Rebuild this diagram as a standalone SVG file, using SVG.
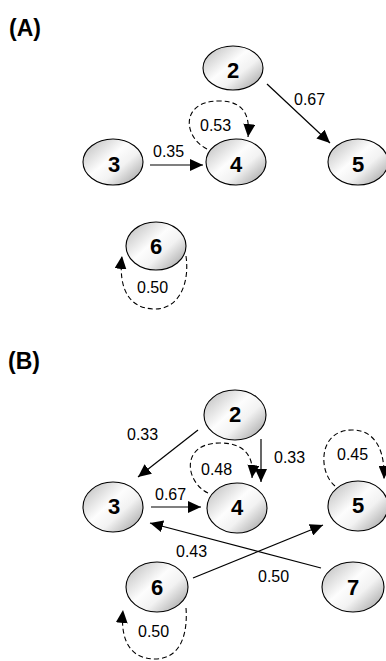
<svg xmlns="http://www.w3.org/2000/svg" width="386" height="661" viewBox="0 0 386 661">
<defs>
<linearGradient id="shade" x1="0" y1="0.2" x2="0.9" y2="1">
<stop offset="0" stop-color="#c6c6c6"/>
<stop offset="0.4" stop-color="#fdfdfd"/>
<stop offset="0.62" stop-color="#f2f2f2"/>
<stop offset="1" stop-color="#a4a4a4"/>
</linearGradient>
<marker id="arr" markerUnits="userSpaceOnUse" markerWidth="14" markerHeight="12" viewBox="0 0 14 12" refX="13" refY="6" orient="auto">
<path d="M0,0 L13,6 L0,12 z" fill="#000"/>
</marker>
<style>
.node ellipse{fill:url(#shade);stroke:#000;stroke-width:1.1}
.node text{font-family:"Liberation Sans",Arial,sans-serif;font-weight:bold;font-size:22px;text-anchor:middle;fill:#000}
.e{fill:none;stroke:#000;stroke-width:1.2;marker-end:url(#arr)}
.d{fill:none;stroke:#000;stroke-width:1.1;stroke-dasharray:5,3;marker-end:url(#arr)}
.lbl{font-family:"Liberation Sans",Arial,sans-serif;font-size:16px;fill:#000}
.pan{font-family:"Liberation Sans",Arial,sans-serif;font-weight:bold;font-size:23px;fill:#000}
</style>
</defs>
<rect width="386" height="661" fill="#fff"/>
<text class="pan" x="9" y="36">(A)</text>
<text class="pan" x="8" y="369">(B)</text>

<g id="connectors">
<line class="e" x1="150" y1="165" x2="203" y2="165"/>
<line class="e" x1="267" y1="84" x2="330" y2="143"/>
<path class="d" d="M207,149 C183,137 180,101 219,101 C246,101 250,118 248,137"/>
<path class="d" d="M186,256 C190,285 178,309 155,309 C130,309 118,290 122,256"/>

<line class="e" x1="198" y1="430" x2="138" y2="477"/>
<line class="e" x1="261" y1="439" x2="261" y2="482"/>
<line class="e" x1="151" y1="507" x2="201" y2="507"/>
<line class="e" x1="321" y1="568" x2="150" y2="523"/>
<line class="e" x1="193" y1="578" x2="323" y2="525"/>
<path class="d" d="M208,493 C185,482 180,443 220,443 C248,443 254,460 252,478"/>
<path class="d" d="M335,486 C318,472 318,430 352,430 C378,430 385,455 384,479"/>
<path class="d" d="M186,608 C188,635 180,659 155,659 C130,659 120,640 123,610"/>
</g>

<g id="labels">
<text class="lbl" x="153" y="157">0.35</text>
<text class="lbl" x="294" y="105">0.67</text>
<text class="lbl" x="200" y="131">0.53</text>
<text class="lbl" x="137" y="293">0.50</text>
<text class="lbl" x="127" y="440">0.33</text>
<text class="lbl" x="274" y="463">0.33</text>
<text class="lbl" x="155" y="500">0.67</text>
<text class="lbl" x="201" y="475">0.48</text>
<text class="lbl" x="337" y="460">0.45</text>
<text class="lbl" x="176" y="557">0.43</text>
<text class="lbl" x="258" y="582">0.50</text>
<text class="lbl" x="138" y="637">0.50</text>
</g>

<g id="A2" class="node"><ellipse cx="233" cy="68" rx="30" ry="22"/><text x="233" y="78">2</text></g>
<g id="A3" class="node"><ellipse cx="113" cy="162" rx="30" ry="23"/><text x="114" y="172">3</text></g>
<g id="A4" class="node"><ellipse cx="236" cy="162" rx="30" ry="23"/><text x="236" y="172">4</text></g>
<g id="A5" class="node"><ellipse cx="358" cy="162" rx="30" ry="23"/><text x="358" y="172">5</text></g>
<g id="A6" class="node"><ellipse cx="156" cy="246" rx="30" ry="24"/><text x="156" y="254">6</text></g>

<g id="B2" class="node"><ellipse cx="235" cy="415" rx="31" ry="25"/><text x="235" y="422">2</text></g>
<g id="B3" class="node"><ellipse cx="113" cy="507" rx="30" ry="25"/><text x="114" y="514">3</text></g>
<g id="B4" class="node"><ellipse cx="237" cy="508" rx="30" ry="25"/><text x="237" y="515">4</text></g>
<g id="B5" class="node"><ellipse cx="358" cy="506" rx="30" ry="25"/><text x="358" y="513">5</text></g>
<g id="B6" class="node"><ellipse cx="157" cy="587" rx="31" ry="25"/><text x="157" y="595">6</text></g>
<g id="B7" class="node"><ellipse cx="353" cy="587" rx="31" ry="25"/><text x="353" y="595">7</text></g>
</svg>
